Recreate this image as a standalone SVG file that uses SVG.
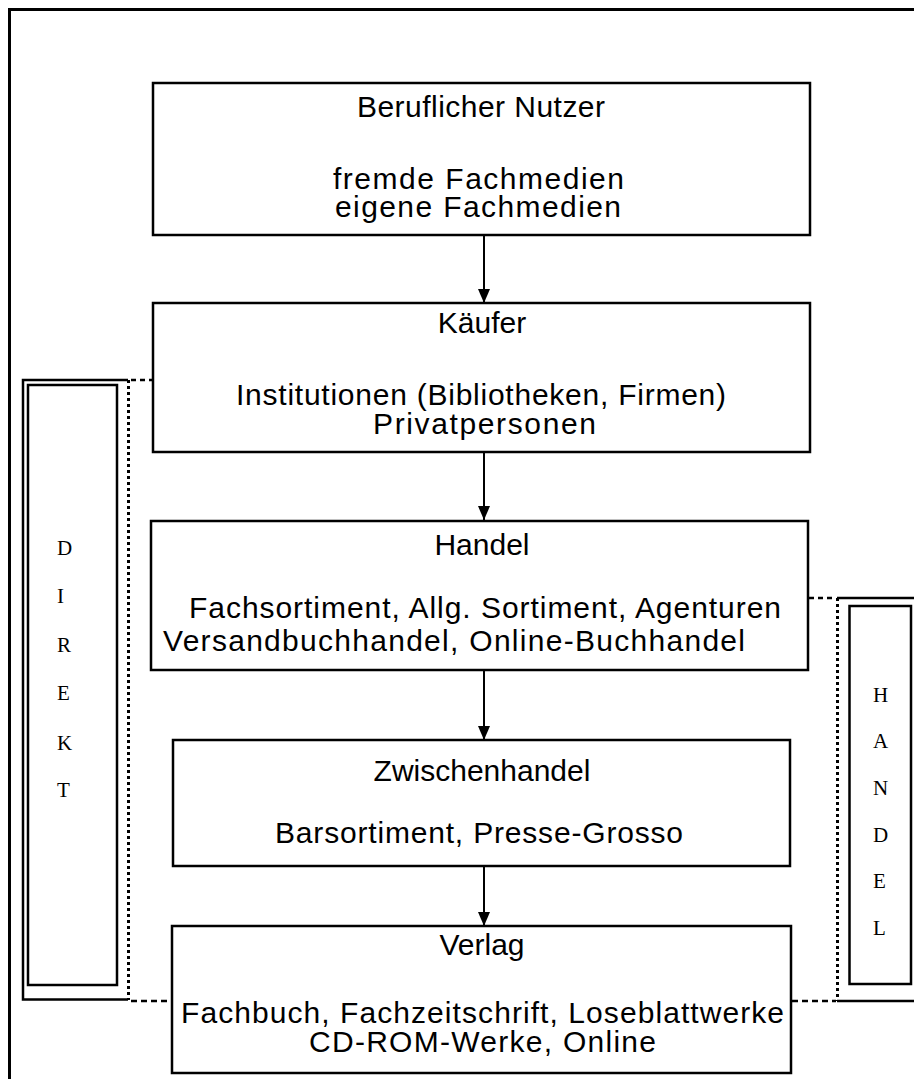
<svg xmlns="http://www.w3.org/2000/svg" width="914" height="1079" viewBox="0 0 914 1079">
  <defs>
    <marker id="arrow" markerWidth="14" markerHeight="12" refX="14" refY="6" orient="auto" markerUnits="userSpaceOnUse">
      <path d="M0,0 L14,6 L0,12 Z" fill="#000"/>
    </marker>
    <style>
      .box { fill: #fff; stroke: #000; stroke-width: 2.5; }
      .frame { fill: none; stroke: #000; stroke-width: 3; }
      .solid { fill: none; stroke: #000; stroke-width: 2.5; }
      .dotted { fill: none; stroke: #000; stroke-width: 3; stroke-dasharray: 3 3; }
      .dashed { fill: none; stroke: #000; stroke-width: 2.5; stroke-dasharray: 6 4; }
      .conn { fill: none; stroke: #000; stroke-width: 2; marker-end: url(#arrow); }
      .label { font-family: "Liberation Sans", Arial, sans-serif; font-size: 30px; fill: #000; }
      .title { text-anchor: middle; }
      .side { font-family: "Liberation Serif", "Times New Roman", serif; font-size: 21px; fill: #000; }
    </style>
  </defs>

  <rect width="914" height="1079" fill="#fff"/>

  <!-- page frame (open to the right and bottom) -->
  <path class="frame" d="M9.5,1079 V9.5 H914"/>

  <!-- DIREKT bracket on the left -->
  <g id="direkt">
    <path class="solid" d="M128,380 H23 V999.5 H128"/>
    <path class="dotted" d="M128.5,380 V1000"/>
    <rect class="solid" x="28" y="385" width="89" height="600"/>
    <path class="dashed" d="M131,380 H152" style="stroke-dasharray:5 4"/>
    <path class="dashed" d="M131,1001 H171"/>
    <text class="side" x="57" y="555">D</text>
    <text class="side" x="57" y="603">I</text>
    <text class="side" x="57" y="652">R</text>
    <text class="side" x="57" y="700">E</text>
    <text class="side" x="57" y="750">K</text>
    <text class="side" x="57" y="797">T</text>
  </g>

  <!-- HANDEL bracket on the right -->
  <g id="handel-bracket">
    <path class="solid" d="M837,598 H920 M837,1001 H920"/>
    <path class="dotted" d="M837.5,598 V1001"/>
    <rect class="solid" x="849.5" y="606" width="61.5" height="378"/>
    <path class="dashed" d="M809,598 H836" style="stroke-dasharray:5 4"/>
    <path class="dashed" d="M792,1001 H836"/>
    <text class="side" x="873" y="702">H</text>
    <text class="side" x="873" y="748">A</text>
    <text class="side" x="873" y="795">N</text>
    <text class="side" x="873" y="842">D</text>
    <text class="side" x="873" y="888">E</text>
    <text class="side" x="873" y="935">L</text>
  </g>

  <!-- connectors -->
  <g id="connectors">
    <path class="conn" d="M484,236 V303"/>
    <path class="conn" d="M484,453 V520"/>
    <path class="conn" d="M484,671 V740"/>
    <path class="conn" d="M484,866 V926"/>
  </g>

  <g id="nutzer">
    <rect class="box" x="153" y="83" width="657" height="152"/>
    <text class="label" x="357" y="117" textLength="248" lengthAdjust="spacing">Beruflicher Nutzer</text>
    <text class="label" x="333" y="189" textLength="291" lengthAdjust="spacing">fremde Fachmedien</text>
    <text class="label" x="335" y="217" textLength="286" lengthAdjust="spacing">eigene Fachmedien</text>
  </g>

  <g id="kaeufer">
    <rect class="box" x="153" y="303" width="657" height="149"/>
    <text class="label title" x="482" y="333">Käufer</text>
    <text class="label" x="236" y="405" textLength="490" lengthAdjust="spacing">Institutionen (Bibliotheken, Firmen)</text>
    <text class="label" x="373" y="434" textLength="223" lengthAdjust="spacing">Privatpersonen</text>
  </g>

  <g id="handel">
    <rect class="box" x="151" y="521" width="657" height="149"/>
    <text class="label title" x="482" y="555">Handel</text>
    <text class="label" x="189" y="618" textLength="592" lengthAdjust="spacing">Fachsortiment, Allg. Sortiment, Agenturen</text>
    <text class="label" x="163" y="651" textLength="582" lengthAdjust="spacing">Versandbuchhandel, Online-Buchhandel</text>
  </g>

  <g id="zwischenhandel">
    <rect class="box" x="173" y="740" width="617" height="126"/>
    <text class="label title" x="482" y="781">Zwischenhandel</text>
    <text class="label" x="275" y="843" textLength="408" lengthAdjust="spacing">Barsortiment, Presse-Grosso</text>
  </g>

  <g id="verlag">
    <rect class="box" x="172" y="926" width="619" height="147"/>
    <text class="label title" x="482" y="955">Verlag</text>
    <text class="label" x="181" y="1023" textLength="603" lengthAdjust="spacing">Fachbuch, Fachzeitschrift, Loseblattwerke</text>
    <text class="label" x="309" y="1052" textLength="347" lengthAdjust="spacing">CD-ROM-Werke, Online</text>
  </g>
</svg>
